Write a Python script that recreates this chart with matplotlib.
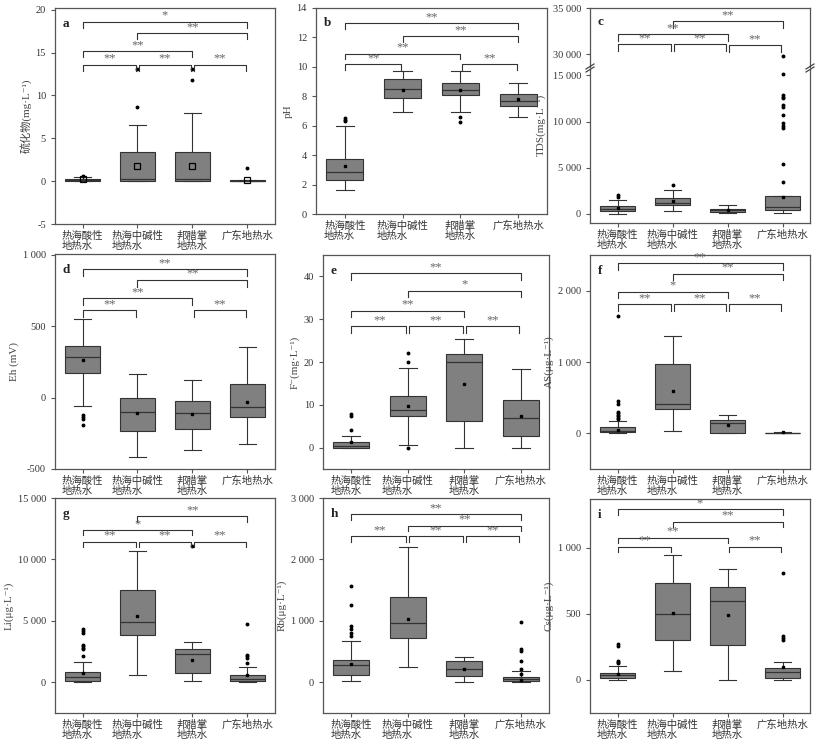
import numpy as np
import matplotlib.pyplot as plt

plt.rcParams['font.family'] = ['Liberation Serif', 'Noto Sans CJK SC', 'DejaVu Serif']
plt.rcParams['axes.unicode_minus'] = False

groups = ['热海酸性\n地热水', '热海中碱性\n地热水', '邦腊掌\n地热水', '广东地热水']

# a 硫化物
a_q1 = [0.02, 0.05, 0.02, 0.0]
a_med = [0.1, 0.25, 0.3, 0.05]
a_q3 = [0.3, 3.4, 3.4, 0.1]
a_lo = [0.0, 0.0, 0.0, 0.0]
a_hi = [0.5, 6.6, 8.0, 0.15]
a_mean = [0.2, 1.8, 1.8, 0.15]
a_out = [[0.65], [8.7, 13.1], [11.8, 13.1], [1.5]]
a_sig = [(1, 4, '*'), (2, 4, '**'), (1, 3, '**'), (1, 2, '**'), (2, 3, '**'), (3, 4, '**')]

# b pH
b_q1 = [2.3, 7.9, 8.1, 7.35]
b_med = [2.85, 8.5, 8.45, 7.65]
b_q3 = [3.75, 9.15, 8.9, 8.15]
b_lo = [1.6, 6.9, 6.95, 6.6]
b_hi = [5.95, 9.75, 9.7, 8.9]
b_mean = [3.25, 8.45, 8.4, 7.8]
b_out = [[6.3, 6.4, 6.5], [], [6.6, 6.25], []]
b_sig = [(1, 4, '**'), (2, 4, '**'), (1, 3, '**'), (1, 2, '**'), (3, 4, '**')]

# c TDS
c_q1 = [330, 945, 220, 360]
c_med = [570, 1160, 360, 730]
c_q3 = [870, 1670, 545, 1890]
c_lo = [0, 330, 70, 70]
c_hi = [1450, 2545, 910, 1950]
c_mean = [600, 1350, 360, 1850]
c_out = [[1800, 2050], [3150], [],
         [3400, 5400, 9300, 9500, 9800, 10700, 11600, 11800, 12500, 12700, 12900, 15100, 29800]]
c_sig = [(2, 4, '**'), (1, 3, '**'), (1, 2, '**'), (2, 3, '**'), (3, 4, '**')]

# d Eh
d_q1 = [170, -231, -221, -133]
d_med = [287, -98, -105, -63]
d_q3 = [361, -5, -21, 93]
d_lo = [-58, -413, -366, -324]
d_hi = [548, 165, 124, 357]
d_mean = [263, -105, -114, -30]
d_out = [[-120, -135, -150, -190], [], [], []]
d_sig = [(1, 4, '**'), (2, 4, '**'), (1, 3, '**'), (1, 2, '**'), (3, 4, '**')]

# e F-
e_q1 = [0, 7.3, 6.3, 2.65]
e_med = [0.3, 8.8, 19.9, 6.85]
e_q3 = [1.4, 12.1, 21.8, 11.2]
e_lo = [0, 0.6, 0, 0]
e_hi = [2.65, 18.5, 25.4, 18.4]
e_mean = [1.25, 9.65, 14.9, 7.3]
e_out = [[4.2, 7.3, 7.9], [0, 19.9, 22.0], [], []]
e_sig = [(1, 4, '**'), (2, 4, '*'), (1, 3, '**'), (1, 2, '**'), (2, 3, '**'), (3, 4, '**')]

# f AS
f_q1 = [14, 341, 9, 0]
f_med = [37, 411, 140, 3]
f_q3 = [84, 972, 182, 8]
f_lo = [0, 37, 0, 0]
f_hi = [178, 1369, 252, 15]
f_mean = [51, 598, 112, 20]
f_out = [[200, 220, 240, 260, 280, 300, 410, 450, 1650], [], [], []]
f_sig = [(1, 4, '**'), (2, 4, '**'), (1, 3, '*'), (1, 2, '**'), (2, 3, '**'), (3, 4, '**')]

# g Li
g_q1 = [82, 3825, 765, 82]
g_med = [437, 4918, 2268, 273]
g_q3 = [874, 7514, 2732, 574]
g_lo = [0, 601, 137, 0]
g_hi = [1667, 10656, 3279, 1230]
g_mean = [792, 5382, 1803, 628]
g_out = [[2180, 2700, 2800, 2950, 3050, 4050, 4200, 4350], [], [11100],
         [1600, 2000, 2100, 2200, 4750]]
g_sig = [(2, 4, '**'), (1, 3, '*'), (1, 2, '**'), (2, 3, '**'), (3, 4, '**')]

# h Rb
h_q1 = [114, 723, 109, 27]
h_med = [277, 957, 217, 54]
h_q3 = [359, 1391, 342, 87]
h_lo = [16, 250, 0, 0]
h_hi = [668, 2196, 413, 179]
h_mean = [299, 1033, 223, 40]
h_out = [[760, 800, 870, 910, 1265, 1565], [], [], [130, 220, 340, 510, 540, 980]]
h_sig = [(1, 4, '**'), (2, 4, '**'), (1, 2, '**'), (2, 3, '**'), (3, 4, '**')]

# i Cs
i_q1 = [13, 302, 262, 15]
i_med = [35, 501, 597, 58]
i_q3 = [55, 736, 705, 91]
i_lo = [0, 65, 0, 0]
i_hi = [106, 945, 841, 136]
i_mean = [45, 509, 489, 98]
i_out = [[125, 135, 145, 260, 275], [], [], [300, 315, 330, 810]]
i_sig = [(1, 4, '*'), (2, 4, '**'), (1, 3, '**'), (1, 2, '**'), (3, 4, '**')]


W, H = 827, 740
fig = plt.figure(figsize=(W / 100, H / 100), dpi=100)
BOX = '#808080'
EDGE = '#333333'


def rect(l, t, r, b):
    return [l / W, 1 - b / H, (r - l) / W, (b - t) / H]


def make_stats(q1, med, q3, lo, hi, mean, out):
    return [dict(q1=q1[k], med=med[k], q3=q3[k], whislo=lo[k], whishi=hi[k],
                 mean=mean[k], fliers=out[k]) for k in range(4)]


def fmt(v):
    return f'{int(v):,}'.replace(',', ' ') if abs(v) >= 1000 else f'{v:g}'


def style(ax):
    for s in ax.spines.values():
        s.set_color('#555555')
        s.set_linewidth(0.9)
    ax.tick_params(direction='out', length=3, width=0.8, colors='#555555',
                   labelsize=7.5, labelcolor='#333333')


def draw_boxes(ax, st, hollow=False):
    if hollow:
        mp = dict(marker='s', markersize=4.5, markerfacecolor='none',
                  markeredgecolor='black', markeredgewidth=0.9)
    else:
        mp = dict(marker='s', markersize=1.6, markerfacecolor='black',
                  markeredgecolor='black')
    ax.bxp(st, positions=[1, 2, 3, 4], widths=0.64, capwidths=0.32,
           patch_artist=True, showmeans=True,
           boxprops=dict(facecolor=BOX, edgecolor=EDGE, linewidth=0.8),
           medianprops=dict(color=EDGE, linewidth=0.9),
           whiskerprops=dict(color=EDGE, linewidth=0.8),
           capprops=dict(color=EDGE, linewidth=0.8),
           flierprops=dict(marker='o', markersize=1.8, markerfacecolor='black',
                           markeredgecolor='black'),
           meanprops=mp)
    ax.set_xlim(0.5, 4.5)


def xlabels(ax):
    # two-line category labels, left-aligned block centred under each tick
    ax.set_xticks([1, 2, 3, 4])
    ax.set_xticklabels([])
    for k, g in enumerate(groups):
        ax.annotate(g, xy=(k + 1, 0), xycoords=('data', 'axes fraction'),
                    xytext=(0, -5), textcoords='offset points',
                    ha='center', va='top', fontsize=7.5, color='#333333',
                    linespacing=1.0, multialignment='left',
                    family=['Noto Sans CJK SC'])


def brackets(ax, sig, levels, leg):
    for (i, j, star), y in zip(sig, levels):
        x0, x1 = (i + 0.025, j - 0.025) if j - i == 1 else (i, j)
        if j - i == 1 and i == 1:
            x0 = i
        ax.plot([x0, x0, x1, x1], [y - leg, y, y, y - leg], color='#333333', lw=0.8)
        ax.text((i + j) / 2, y, star, ha='center', va='bottom', fontsize=9,
                color='#666666')


def letter(ax, s, y=0.955):
    ax.text(0.035, y, s, transform=ax.transAxes, fontsize=9.5,
            fontweight='bold', va='top', ha='left', color='#222222')


def yticks(ax, ticks):
    ax.set_yticks(ticks)
    ax.set_yticklabels([fmt(v) for v in ticks])


def ylab(ax, s):
    ax.set_ylabel(s, fontsize=8, color='#444444', labelpad=3)


panels = [
    ('a', (55, 8, 275, 224), make_stats(a_q1, a_med, a_q3, a_lo, a_hi, a_mean, a_out),
     (-5, 20.2), [-5, 0, 5, 10, 15, 20], '硫化物(mg·L⁻¹)', a_sig,
     [18.6, 17.3, 15.2, 13.6, 13.6, 13.6], 0.75),
    ('b', (316, 8, 547, 214), make_stats(b_q1, b_med, b_q3, b_lo, b_hi, b_mean, b_out),
     (0, 14), [0, 2, 4, 6, 8, 10, 12, 14], 'pH', b_sig,
     [12.95, 12.1, 10.9, 10.2, 10.2], 0.4),
    ('d', (55, 254, 275, 469), make_stats(d_q1, d_med, d_q3, d_lo, d_hi, d_mean, d_out),
     (-500, 1005), [-500, 0, 500, 1000], 'Eh (mV)', d_sig,
     [900, 825, 697, 611, 611], 50),
    ('e', (323, 255, 549, 469), make_stats(e_q1, e_med, e_q3, e_lo, e_hi, e_mean, e_out),
     (-5, 45), [0, 10, 20, 30, 40], 'F⁻(mg·L⁻¹)', e_sig,
     [40.7, 36.7, 32.0, 28.3, 28.3, 28.3], 1.6),
    ('f', (590, 255, 810, 469), make_stats(f_q1, f_med, f_q3, f_lo, f_hi, f_mean, f_out),
     (-500, 2500), [0, 1000, 2000], 'AS(μg·L⁻¹)', f_sig,
     [2384, 2240, 1987, 1809, 1809, 1809], 95),
    ('g', (55, 498, 275, 713), make_stats(g_q1, g_med, g_q3, g_lo, g_hi, g_mean, g_out),
     (-2500, 15000), [0, 5000, 10000, 15000], 'Li(μg·L⁻¹)', g_sig,
     [13500, 12400, 11450, 11450, 11450], 450),
    ('h', (323, 498, 549, 713), make_stats(h_q1, h_med, h_q3, h_lo, h_hi, h_mean, h_out),
     (-500, 3000), [0, 1000, 2000, 3000], 'Rb(μg·L⁻¹)', h_sig,
     [2740, 2550, 2377, 2377, 2377], 90),
    ('i', (590, 499, 810, 713), make_stats(i_q1, i_med, i_q3, i_lo, i_hi, i_mean, i_out),
     (-250, 1370), [0, 500, 1000], 'Cs(μg·L⁻¹)', i_sig,
     [1291, 1198, 1078, 1010, 1010], 40),
]

for key, box, st, ylim, ticks, label, sig, levels, leg in panels:
    ax = fig.add_axes(rect(*box))
    style(ax)
    draw_boxes(ax, st, hollow=(key == 'a'))
    ax.set_ylim(*ylim)
    yticks(ax, ticks)
    xlabels(ax)
    ylab(ax, label)
    brackets(ax, sig, levels, leg)
    letter(ax, key)

# c: broken y axis, two stacked axes with the same scale
c_st = make_stats(c_q1, c_med, c_q3, c_lo, c_hi, c_mean, c_out)
ax_top = fig.add_axes(rect(590, 8, 810, 66.5))
ax_bot = fig.add_axes(rect(590, 69.5, 810, 223))
for ax in (ax_top, ax_bot):
    style(ax)
    draw_boxes(ax, c_st)
ax_top.set_ylim(28660, 35000)
ax_bot.set_ylim(-1000, 15640)
yticks(ax_top, [30000, 35000])
yticks(ax_bot, [0, 5000, 10000, 15000])
ax_top.spines['bottom'].set_visible(False)
ax_bot.spines['top'].set_visible(False)
ax_top.tick_params(axis='x', bottom=False, labelbottom=False)
xlabels(ax_bot)
ylab(ax_bot, 'TDS(mg·L⁻¹)')
ax_bot.yaxis.set_label_coords(-0.2, 0.64)
brackets(ax_top, c_sig, [33600, 32200, 31100, 31100, 30950], 750)
letter(ax_top, 'c', y=0.86)

# break marks
for xa in (0, 1):
    for yb in (-1.5, 1.5):
        fig.lines.append(plt.Line2D(
            [(590 + 220 * xa - 4) / W, (590 + 220 * xa + 4) / W],
            [1 - (68 + yb + 2.5) / H, 1 - (68 + yb - 2.5) / H],
            transform=fig.transFigure, color='#444444', lw=0.9))

fig.savefig('out.png', dpi=100)
